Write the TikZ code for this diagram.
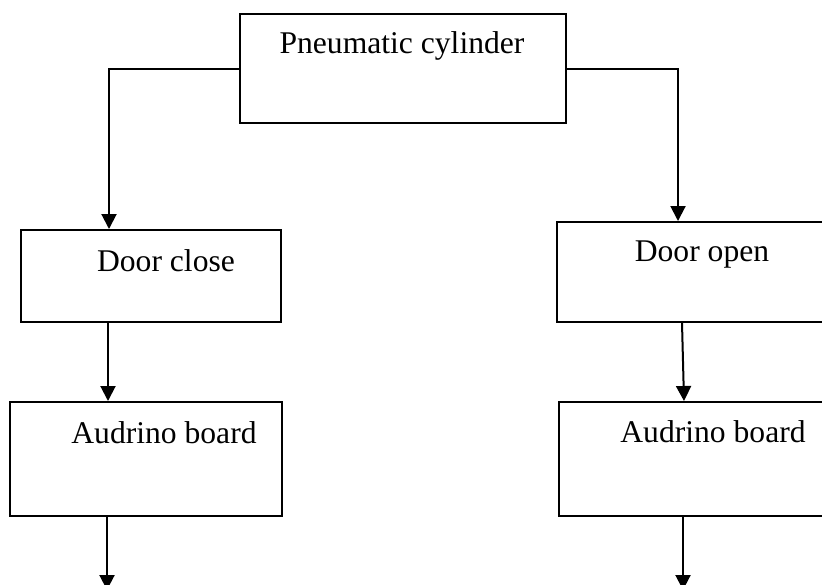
\documentclass[tikz,border=0pt]{standalone}
\usepackage{fontspec}
\setmainfont{Liberation Serif}
\usetikzlibrary{arrows.meta}

\tikzstyle{block} = [draw, rectangle, line width=1pt, inner sep=0pt]
\tikzstyle{label} = [anchor=base, inner sep=0pt, font=\fontsize{15.8}{18}\selectfont]
\tikzstyle{arr} = [line width=1pt, -{Triangle[length=7.5pt, width=7.5pt]}]

\begin{document}
\begin{tikzpicture}[x=0.5pt, y=-0.5pt]
      \useasboundingbox (0,0) rectangle (822,584);
      \node[block, minimum width=163pt, minimum height=54.5pt] (pc) at (403,68.5) {};
      \node[block, minimum width=130pt, minimum height=46pt] (dc) at (151,276) {};
      \node[block, minimum width=141.5pt, minimum height=50pt] (do) at (698.5,272) {};
      \node[block, minimum width=136pt, minimum height=57pt] (ab1) at (146,459) {};
      \node[block, minimum width=145.5pt, minimum height=57pt] (ab2) at (704.5,459) {};
      \node[label] (pct) at (402,53) {Pneumatic cylinder};
      \node[label] (dct) at (166,271) {Door close};
      \node[label] (dot) at (702,261) {Door open};
      \node[label] (ab1t) at (164,443) {Audrino board};
      \node[label] (ab2t) at (713,442) {Audrino board};
      \coordinate (end1) at (107,590);
      \coordinate (end2) at (683,590);
      \draw[arr] (pc.west) -| ([xshift=-21pt]dc.north);
      \draw[arr] (pc.east) -| ([xshift=-10.25pt]do.north);
      \draw[arr] ([xshift=-21.5pt]dc.south) -- ([xshift=-19pt]ab1.north);
      \draw[arr] ([xshift=-8.25pt]do.south) -- ([xshift=-10.25pt]ab2.north);
      \draw[arr] ([xshift=-19.5pt]ab1.south) -- (end1);
      \draw[arr] ([xshift=-10.75pt]ab2.south) -- (end2);
    \end{tikzpicture}
\end{document}
